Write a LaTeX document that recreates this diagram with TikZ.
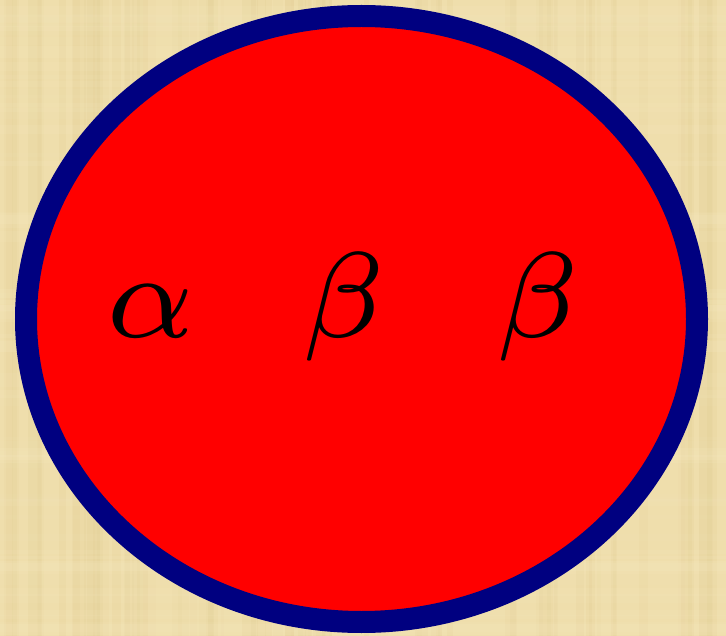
\documentclass[tikz,border=0pt]{standalone}
\definecolor{parch}{RGB}{239,222,172}
\definecolor{parchdark}{RGB}{222,200,140}
\definecolor{parchlight}{RGB}{248,236,196}
\definecolor{navyring}{RGB}{0,0,128}
\definecolor{redfill}{RGB}{255,0,0}
\tikzset{
  letter/.style={anchor=base,inner sep=0pt,scale=17.4,text=black},
  ring/.style={draw=navyring,fill=redfill,line width=22pt}
}
\begin{document}
\begin{tikzpicture}[x=1pt,y=-1pt]
\useasboundingbox (0,0) rectangle (726,636);
\fill[parch] (0,0) rectangle (726,636);
\pgfmathsetseed{7}
\foreach \i in {1,...,70}{
  \pgfmathsetmacro{\xa}{random(0,726)}
  \pgfmathsetmacro{\wa}{random(3,14)}
  \pgfmathsetmacro{\op}{random(5,18)/100}
  \fill[parchdark,opacity=\op] (\xa,0) rectangle (\xa+\wa,636);
}
\foreach \i in {1,...,60}{
  \pgfmathsetmacro{\ya}{random(0,636)}
  \pgfmathsetmacro{\ha}{random(3,12)}
  \pgfmathsetmacro{\op}{random(5,16)/100}
  \fill[parchlight,opacity=\op] (0,\ya) rectangle (726,\ya+\ha);
}
\draw[ring] (361.5,319) ellipse [x radius=335.5, y radius=303];
\node[letter] (a) at (150.5,338) {$\scriptstyle\alpha$};
\node[letter] (b1) at (344,338) {$\scriptstyle\beta$};
\node[letter] (b2) at (538,338) {$\scriptstyle\beta$};
\end{tikzpicture}
\end{document}
